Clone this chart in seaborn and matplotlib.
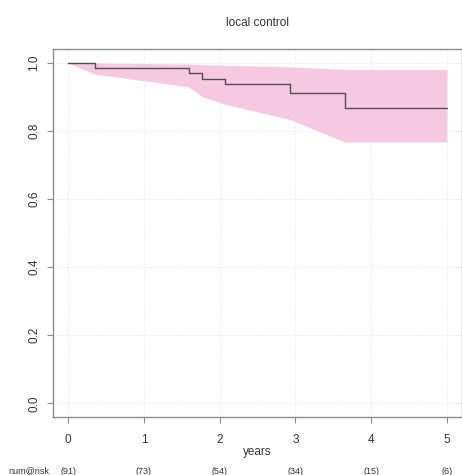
import numpy as np
import pandas as pd
import matplotlib
matplotlib.use("Agg")
import matplotlib.pyplot as plt
import seaborn as sns

# Kaplan-Meier estimate for local control
times = [0.0, 0.36, 1.59, 1.77, 2.07, 2.93, 3.65, 5.0]
surv = [1.0, 0.986, 0.971, 0.954, 0.937, 0.911, 0.868, 0.868]
upper = [1.0, 1.0, 0.997, 0.995, 0.993, 0.989, 0.981, 0.981]
lower = [1.0, 0.967, 0.930, 0.901, 0.879, 0.834, 0.768, 0.768]

# numbers at risk
risk_times = [0, 1, 2, 3, 4, 5]
risk_counts = [91, 73, 54, 34, 15, 6]

x_ticks = [0, 1, 2, 3, 4, 5]
y_ticks = [0.0, 0.2, 0.4, 0.6, 0.8, 1.0]

sns.set_style("white")
plt.rcParams['font.family'] = ['Liberation Sans', 'DejaVu Sans']

df = pd.DataFrame({'years': times, 'surv': surv, 'upper': upper, 'lower': lower})

fig = plt.figure(figsize=(4.62, 4.75), dpi=100)
ax = fig.add_axes([53 / 462, 58 / 475, 409 / 462, 367.6 / 475])

ax.fill_between(df['years'], df['lower'], df['upper'], color='#f7c9e0', lw=0, zorder=1)
sns.lineplot(data=df, x='years', y='surv', drawstyle='steps-post', color='#4f4f4f',
             lw=1.0, ax=ax, zorder=3)

ax.set_xlim(-0.2, 5.2)
ax.set_ylim(-0.04, 1.04)
ax.set_xticks(x_ticks)
ax.set_yticks(y_ticks)
ax.set_yticklabels([f"{v:.1f}" for v in y_ticks], rotation=90, va='center')
ax.grid(True, color='#dcdcdc', ls=(0, (1, 2)), lw=0.6)
ax.set_axisbelow(True)

for s in ax.spines.values():
    s.set_color('#8a8a8a')
    s.set_linewidth(1.0)
ax.tick_params(axis='both', direction='out', length=4, width=0.8, color='#8a8a8a',
               labelsize=8.5, labelcolor='#333333', pad=8, bottom=True, left=True)
ax.tick_params(axis='y', pad=5)

ax.set_xlabel('years', fontsize=8.5, color='#333333', labelpad=0)
ax.set_ylabel('')
ax.set_title('local control', fontsize=8.5, color='#333333', pad=17)

tr = ax.get_xaxis_transform()
ax.text(-0.52, -0.147, 'num@risk', transform=tr, fontsize=6.5, color='#333333',
        ha='center', va='center', clip_on=False)
for t, n in zip(risk_times, risk_counts):
    ax.text(t, -0.147, f"({n})", transform=tr, fontsize=6.5, color='#333333',
            ha='center', va='center', clip_on=False)

fig.savefig('out.png', dpi=100)
